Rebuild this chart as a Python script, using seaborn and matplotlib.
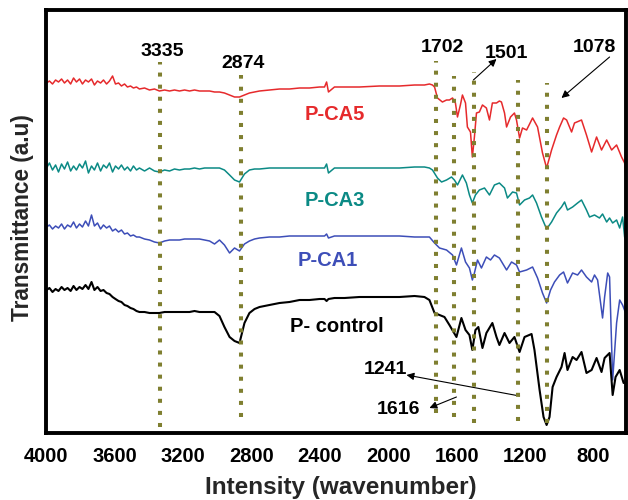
import matplotlib
matplotlib.use("Agg")
import matplotlib.pyplot as plt
import numpy as np
import pandas as pd
import seaborn as sns

sns.set_style("white")
plt.rcParams['font.family'] = ['Liberation Sans', 'DejaVu Sans']
plt.rcParams['font.weight'] = 'bold'

# ---------------- data ----------------
# shared wavenumber grid for the 4000-1760 cm-1 region
common_wn = [3997, 3980, 3962, 3944, 3927, 3909, 3892, 3874, 3856, 3839, 3822, 3804, 3787, 3769,
             3752, 3734, 3717, 3699, 3681, 3664, 3646, 3629, 3611, 3594, 3576, 3559, 3541, 3524,
             3506, 3489, 3471,
             3454, 3424, 3395, 3366, 3337, 3307, 3278, 3249, 3220, 3190, 3161, 3132, 3103, 3073,
             3044, 3015, 2986, 2957, 2927, 2898, 2869, 2840, 2811, 2781, 2752,
             2694, 2635, 2577, 2518, 2460, 2401, 2372, 2360, 2349, 2314, 2255, 2168, 2051, 1934,
             1846, 1788, 1759]

pca5_common = [350, 352, 349, 353, 351, 354, 350, 353, 349, 355, 351, 354, 349, 353,
               351, 354, 348, 352, 350, 353, 349, 352, 357, 349, 350, 347, 349, 346,
               347, 345, 346,
               344, 345, 343, 344, 342, 343, 342, 343, 342, 343, 342, 343, 342, 342,
               342, 341, 341, 340, 338, 336, 336, 338, 340, 341, 342,
               343, 344, 344, 345, 345, 346, 346, 351, 341, 346, 346, 346, 347, 347,
               348, 348, 349]
pca5_fp_wn = [1741, 1729, 1712, 1683, 1659, 1642, 1624, 1607, 1595, 1578, 1566, 1548, 1537, 1519,
              1508, 1496, 1484, 1467, 1449, 1426, 1408, 1391, 1367, 1350, 1338, 1320, 1308, 1285,
              1262, 1250, 1232, 1215, 1191, 1156, 1127, 1098, 1074, 1045, 1016, 998, 975, 957,
              928, 911, 870, 841, 811, 782, 753, 723, 694, 665, 636, 618, 607]
pca5_fp = [348, 346, 335, 331, 333, 333, 335, 330, 316, 328, 338, 330, 306, 301,
           276, 296, 320, 321, 328, 325, 313, 330, 330, 332, 331, 320, 306, 316,
           320, 313, 295, 305, 303, 315, 306, 280, 265, 283, 298, 306, 315, 313,
           301, 310, 313, 298, 281, 296, 283, 293, 283, 288, 276, 270, 250]

pca3_common = [265, 270, 263, 268, 261, 269, 264, 271, 262, 267, 263, 269, 265, 272,
               260, 267, 263, 270, 262, 268, 265, 270, 261, 267, 264, 268, 263, 266,
               262, 267, 263,
               265, 262, 265, 262, 261, 263, 262, 264, 263, 264, 264, 265, 264, 265,
               265, 265, 265, 263, 258, 253, 251, 259, 263, 264, 264,
               265, 265, 265, 265, 265, 265, 265, 269, 260, 265, 265, 265, 265, 265,
               266, 266, 265]
pca3_fp_wn = [1741, 1712, 1688, 1659, 1630, 1613, 1595, 1566, 1543, 1525, 1508, 1490, 1467, 1437,
              1408, 1379, 1350, 1320, 1303, 1273, 1250, 1232, 1203, 1174, 1156, 1133, 1104, 1074,
              1045, 1016, 987, 969, 952, 922, 893, 870, 841, 823, 794, 765, 747, 723,
              706, 688, 665, 647, 630, 618, 607]
pca3_fp = [263, 255, 251, 253, 256, 253, 248, 258, 250, 238, 230, 238, 243, 245,
           238, 248, 250, 245, 235, 241, 240, 228, 233, 235, 238, 230, 216, 204,
           211, 220, 226, 231, 223, 226, 230, 233, 223, 216, 218, 215, 219, 211,
           215, 210, 213, 205, 216, 196, 190]

pca1_common = [206, 208, 204, 207, 205, 209, 204, 208, 206, 211, 205, 209, 206, 212,
               207, 218, 207, 210, 204, 208, 205, 207, 202, 204, 201, 203, 199, 200,
               197, 198, 196,
               196, 194, 193, 191, 190, 192, 193, 193, 193, 194, 194, 194, 194, 193,
               192, 189, 193, 188, 180, 185, 182, 189, 192, 194, 195,
               196, 196, 197, 197, 197, 197, 197, 199, 195, 197, 197, 197, 197, 197,
               196, 196, 196]
pca1_fp_wn = [1729, 1700, 1659, 1624, 1601, 1572, 1548, 1525, 1508, 1496, 1478, 1455, 1426, 1402,
              1379, 1350, 1308, 1279, 1250, 1232, 1191, 1156, 1127, 1098, 1074, 1051, 1028, 998,
              975, 952, 922, 893, 870, 841, 811, 794, 776, 747, 735, 717, 706, 688,
              665, 647, 630, 612, 607]
pca1_fp = [190, 185, 183, 178, 168, 185, 171, 165, 153, 160, 173, 165, 176, 173,
           178, 175, 163, 171, 168, 161, 163, 166, 155, 140, 130, 143, 151, 158,
           161, 150, 160, 158, 163, 156, 151, 158, 153, 115, 136, 160, 156, 53,
           110, 133, 128, 120, 111]

ctrl_common = [143, 145, 141, 144, 142, 146, 143, 145, 142, 147, 143, 146, 144, 148,
               144, 151, 143, 146, 142, 143, 140, 139, 136, 134, 132, 131, 128, 127,
               125, 124, 122,
               121, 121, 120, 120, 120, 121, 121, 121, 121, 121, 121, 122, 121, 121,
               121, 121, 117, 106, 96, 92, 90, 110, 120, 124, 126,
               128, 130, 131, 133, 133, 134, 134, 132, 134, 135, 135, 136, 136, 136,
               137, 136, 133]
ctrl_fp_wn = [1729, 1700, 1671, 1642, 1601, 1572, 1548, 1525, 1508, 1490, 1473, 1449, 1426, 1391,
              1367, 1350, 1320, 1291, 1262, 1232, 1203, 1162, 1145, 1115, 1092, 1074, 1057, 1039,
              1016, 987, 969, 952, 922, 899, 870, 841, 811, 782, 753, 735, 706, 688,
              671, 647, 624, 607]
ctrl_fp = [120, 118, 116, 108, 96, 115, 103, 98, 83, 103, 106, 85, 100, 110,
           96, 88, 100, 90, 96, 81, 96, 99, 83, 43, 16, 8, 16, 46,
           56, 66, 80, 63, 76, 73, 81, 60, 63, 75, 61, 75, 80, 38,
           56, 63, 50, 51]

series_names = ["P-CA5", "P-CA3", "P-CA1", "P- control"]
series_wn = [common_wn + pca5_fp_wn, common_wn + pca3_fp_wn,
             common_wn + pca1_fp_wn, common_wn + ctrl_fp_wn]
series_t = [pca5_common + pca5_fp, pca3_common + pca3_fp,
            pca1_common + pca1_fp, ctrl_common + ctrl_fp]
series_colors = ["#e62a2c", "#0b8a85", "#3d4eb8", "#000000"]
series_lw = [1.1, 1.1, 1.1, 1.5]

# curve labels (wavenumber, transmittance)
label_wn = [2314, 2314, 2355, 2302]
label_t = [318, 233, 173, 106]

# marked bands: vertical dotted guides (position, lower, upper)
guide_wn = [3335, 2860, 1722, 1618, 1501, 1239, 1071]
guide_lo = [6, 16, 20, 16, 10, 12, 10]
guide_hi = [371, 358, 372, 357, 361, 353, 350]

# band labels
band_text = ["3335", "2874", "1702", "1501", "1078", "1241", "1616"]
band_wn = [3322, 2851, 1682, 1308, 794, 2016, 1940]
band_t = [381, 370, 385, 380, 385, 63, 23]

# arrows: (tail wn, tail t) -> (head wn, head t)
arrow_tail_wn = [1502, 706, 1232, 1601]
arrow_tail_t = [353, 376, 37, 36]
arrow_head_wn = [1367, 987, 1893, 1759]
arrow_head_t = [374, 335, 58, 25]

xticks = [4000, 3600, 3200, 2800, 2400, 2000, 1600, 1200, 800]

# ---------------- figure ----------------
fig = plt.figure(figsize=(6.28, 5.0), dpi=100)
ax = fig.add_axes([46 / 628, 67 / 500, 580 / 628, 423 / 500])

for name, wn, t, c, lw in zip(series_names, series_wn, series_t, series_colors, series_lw):
    df = pd.DataFrame({"wavenumber": wn, "transmittance": t})
    sns.lineplot(data=df, x="wavenumber", y="transmittance", color=c, lw=lw,
                 estimator=None, sort=True, ax=ax, zorder=2)

guide_color = "#7f7f30"
for x, lo, hi in zip(guide_wn, guide_lo, guide_hi):
    ax.plot([x, x], [lo, hi], color=guide_color, lw=2.9, ls=(0, (1, 2)),
            dash_capstyle='butt', zorder=4)

for name, x, y, c in zip(series_names, label_wn, label_t, series_colors):
    ax.text(x, y, name, color=c, fontsize=14.5, fontweight='bold', ha='center', va='center')

for s, x, y in zip(band_text, band_wn, band_t):
    ax.text(x, y, s, color='black', fontsize=14, fontweight='bold', ha='center', va='center')

for tx, ty, hx, hy in zip(arrow_tail_wn, arrow_tail_t, arrow_head_wn, arrow_head_t):
    ax.annotate('', xy=(hx, hy), xytext=(tx, ty),
                arrowprops=dict(arrowstyle='-|>', color='black', lw=0.8,
                                mutation_scale=11, shrinkA=0, shrinkB=0))

ax.set_xlim(4000, 610)
ax.set_ylim(0, 423)
ax.set_xticks(xticks)
ax.set_xticklabels([str(v) for v in xticks])
ax.set_yticks([])
ax.tick_params(axis='x', direction='out', length=5, width=2.8, labelsize=14.5, pad=5,
               colors='black')
for lab in ax.get_xticklabels():
    lab.set_fontweight('bold')
for sp in ax.spines.values():
    sp.set_visible(True)
    sp.set_linewidth(2.8)
    sp.set_color('black')

ax.set_xlabel("Intensity (wavenumber)", fontsize=17.5, fontweight='bold', va='center')
ax.xaxis.set_label_coords(0.5086, -0.1277)
ax.set_ylabel("Transmittance (a.u)", fontsize=16.3, fontweight='bold', va='center')
ax.yaxis.set_label_coords(-0.0405, 0.5095)

fig.savefig("out.png", dpi=100)
